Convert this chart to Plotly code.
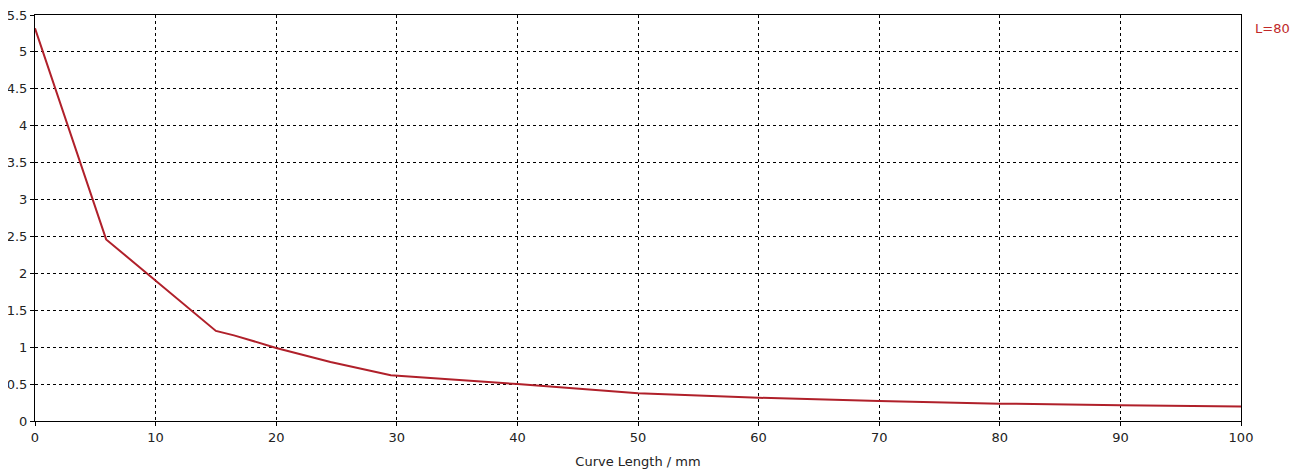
import plotly.graph_objects as go

curve_x = [0, 5.9, 15, 16.5, 20, 24.5, 29.5, 40, 50, 60, 70, 80, 90, 100]
curve_y = [5.32, 2.46, 1.22, 1.16, 0.99, 0.80, 0.62, 0.50, 0.375, 0.315, 0.27, 0.235, 0.215, 0.195]
series_name = "L=80"
x_title = "Curve Length / mm"
x_ticks = [0, 10, 20, 30, 40, 50, 60, 70, 80, 90, 100]
y_ticks = [0, 0.5, 1, 1.5, 2, 2.5, 3, 3.5, 4, 4.5, 5, 5.5]

line_color = "#b0202a"
font_family = "DejaVu Sans"

fig = go.Figure()
fig.add_trace(go.Scatter(x=curve_x, y=curve_y, mode="lines", name=series_name,
                         line=dict(color=line_color, width=2), showlegend=False))

fig.add_annotation(text=series_name, xref="paper", yref="paper", x=1.0, y=0.967,
                   xanchor="left", yanchor="middle", xshift=12, showarrow=False,
                   font=dict(color="#c02828", size=13, family=font_family))

axis_common = dict(showline=True, linecolor="black", linewidth=1, mirror=True,
                   showgrid=True, gridcolor="black", griddash="3px,3px", gridwidth=1,
                   ticks="outside", ticklen=4, tickcolor="black", zeroline=False,
                   automargin=False, ticklabeloverflow="allow",
                   tickfont=dict(size=13, color="#222222", family=font_family))

fig.update_xaxes(range=[0, 100], tickvals=x_ticks, ticktext=[str(v) for v in x_ticks],
                 title=dict(text=x_title, font=dict(size=13, color="#222222", family=font_family),
                            standoff=13),
                 **axis_common)
fig.update_yaxes(range=[0, 5.5], tickvals=y_ticks, ticktext=[f"{v:g}" for v in y_ticks],
                 **axis_common)

# page body has an 8px default margin, so the figure is sized/offset to compensate
fig.update_layout(width=1292, height=466, margin=dict(l=27, r=59, t=7, b=53),
                  plot_bgcolor="white", paper_bgcolor="white",
                  font=dict(family=font_family))

fig.write_html("out.html")
